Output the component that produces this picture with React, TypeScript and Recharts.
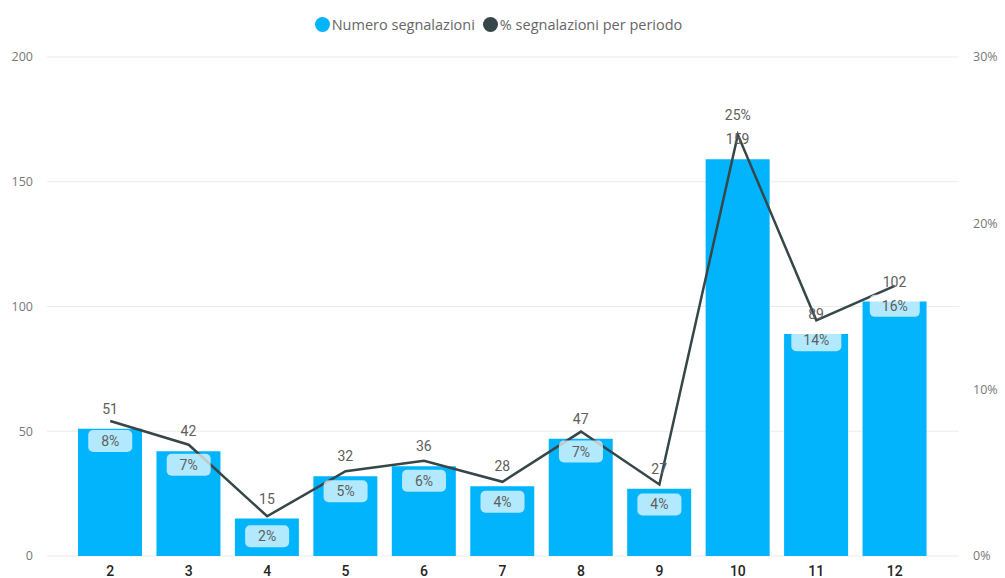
import { ComposedChart, Bar, Line, XAxis, YAxis, CartesianGrid, LabelList } from "recharts";

const months = ["2", "3", "4", "5", "6", "7", "8", "9", "10", "11", "12"];
const counts = [51, 42, 15, 32, 36, 28, 47, 27, 159, 89, 102];
const shares = [0.0812, 0.0669, 0.0239, 0.051, 0.0573, 0.0446, 0.0748, 0.043, 0.2532, 0.1417, 0.1624];
const leftTicks = [0, 50, 100, 150, 200];
const rightTicks = [0, 0.1, 0.2, 0.3];

const data = months.map((m, i) => ({ month: m, count: counts[i], share: shares[i] }));

const BAR = "#01b4fc";
const LINE = "#374649";
const maxShare = Math.max(...shares);

function CountLabel(props: any) {
  const { x, y, width, value } = props;
  return (
    <text x={x + width / 2} y={y - 20} textAnchor="middle" dominantBaseline="central"
      fontFamily="Roboto" fontSize={14} fill="#605e5c">
      {value}
    </text>
  );
}

function ShareLabel(props: any) {
  const { x, y, value } = props;
  const txt = Math.round(value * 100) + "%";
  const above = value === maxShare;
  const cy = above ? y - 20 : y + 20;
  const w = txt.length > 2 ? 50 : 44;
  return (
    <g>
      <rect x={x - w / 2} y={cy - 11} width={w} height={22} rx={5}
        fill={above ? "none" : "rgba(255,255,255,0.7)"} />
      <text x={x} y={cy} textAnchor="middle" dominantBaseline="central"
        fontFamily="Roboto" fontSize={14} fill="#605e5c">
        {txt}
      </text>
    </g>
  );
}

function Legend() {
  const item = (color: string, label: string) => (
    <span style={{ display: "inline-flex", alignItems: "center", marginRight: 8 }}>
      <span style={{ width: 15, height: 15, borderRadius: 8, background: color, marginRight: 2 }} />
      {label}
    </span>
  );
  return (
    <div style={{ position: "absolute", top: 15, left: 0, width: 1005, textAlign: "center",
      fontFamily: "'Open Sans'", fontSize: 14.5, color: "#666", display: "flex", justifyContent: "center" }}>
      {item(BAR, "Numero segnalazioni")}
      {item(LINE, "% segnalazioni per periodo")}
    </div>
  );
}

export default function App() {
  return (
    <div style={{ position: "absolute", left: 0, top: 0, width: 1005, height: 600, background: "#fff" }}>
      <Legend />
      <ComposedChart width={1005} height={600} data={data}
        margin={{ top: 57, right: 0, bottom: 14, left: 0 }}>
        <CartesianGrid yAxisId="left" vertical={false} stroke="#ebebeb" />
        <XAxis dataKey="month" axisLine={false} tickLine={false} height={30} tickMargin={4}
          padding={{ left: 24, right: 25 }}
          tick={{ fontFamily: "Roboto", fontSize: 14, fill: "#252423", fontWeight: 500 }} />
        <YAxis yAxisId="left" domain={[0, 200]} ticks={leftTicks} width={47}
          axisLine={false} tickLine={false} tickMargin={8}
          tick={{ fontFamily: "'Open Sans'", fontSize: 12.5, fill: "#777" }} />
        <YAxis yAxisId="right" orientation="right" domain={[0, 0.3]} ticks={rightTicks} width={46}
          axisLine={false} tickLine={false} tickMargin={8}
          tickFormatter={(v: number) => Math.round(v * 100) + "%"}
          tick={{ fontFamily: "'Open Sans'", fontSize: 12.5, fill: "#777", textAnchor: "start" }} />
        <Bar yAxisId="left" dataKey="count" fill={BAR} barSize={64} isAnimationActive={false}>
          <LabelList dataKey="count" content={<CountLabel />} />
        </Bar>
        <Line yAxisId="right" dataKey="share" stroke={LINE} strokeWidth={2.5} dot={false}
          type="linear" isAnimationActive={false}>
          <LabelList dataKey="share" content={<ShareLabel />} />
        </Line>
      </ComposedChart>
    </div>
  );
}
